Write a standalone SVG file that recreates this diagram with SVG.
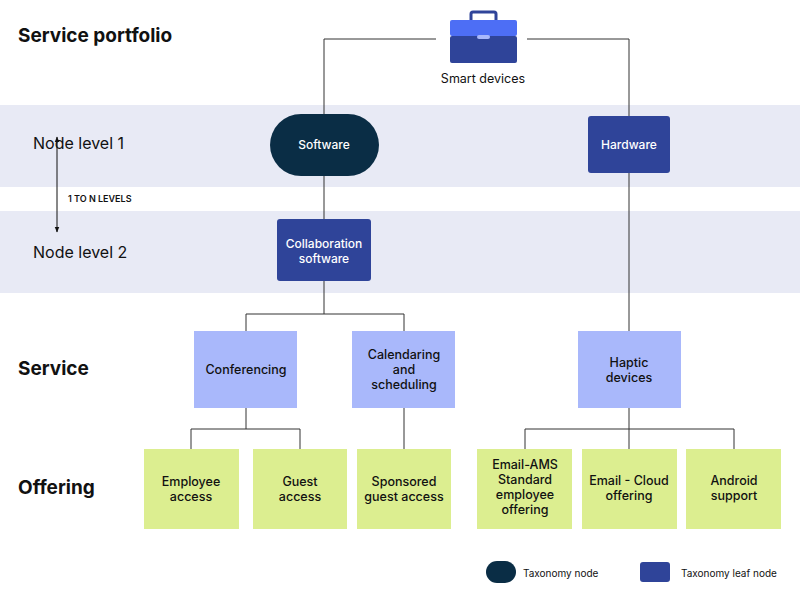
<svg xmlns="http://www.w3.org/2000/svg" width="800" height="600" viewBox="0 0 800 600">
<style>
text{font-family:Inter,"Noto Sans",sans-serif;fill:#111;}
.h{font-size:19px;font-weight:700}
.lvl{font-size:16px}
.w{fill:#fff;font-size:12px;font-weight:500}
.t{font-size:12.5px;font-weight:500}
.c{stroke:#333;stroke-width:1;fill:none}
.band{fill:#e8eaf5}
.light{fill:#a9b8fb}
.green{fill:#dcee90}
.leaf{fill:#2f4499}
</style>
<defs><marker id="ar" viewBox="0 0 10 10" refX="9" refY="5" markerWidth="6" markerHeight="6" orient="auto-start-reverse"><path d="M0,1 L10,5 L0,9 z" fill="#111"/></marker></defs>
<rect class="band" x="0" y="105" width="800" height="82"/>
<rect class="band" x="0" y="211" width="800" height="82"/>
<text class="h" x="18" y="42">Service portfolio</text>
<text class="lvl" x="33" y="149">Node level 1</text>
<text class="lvl" x="33" y="258">Node level 2</text>
<text x="68" y="202" style="font-size:9px;font-weight:600">1 TO N LEVELS</text>
<line x1="57" y1="137" x2="57" y2="232" stroke="#111" marker-start="url(#ar)" marker-end="url(#ar)"/>
<text class="h" x="18" y="375">Service</text>
<text class="h" x="18" y="494">Offering</text>
<g id="connectors">
<path class="c" d="M436,39 H324 V114 M527,39 H629 V116 M324,176 V219 M324,281 V314 M246,331 V314 H404 V331 M629,173 V331 M246,408 V429 M191,449 V429 H300 V449 M404,408 V449 M629,408 V429 M525,449 V429 H734 V449 M629,429 V449"/>
</g>
<g id="smart-devices">
<rect x="471" y="12" width="25" height="10" rx="2" fill="none" stroke="#2f4499" stroke-width="3"/>
<rect x="450" y="20" width="67" height="16" rx="2" fill="#4d6ef5"/>
<rect x="450" y="36" width="67" height="27" rx="2" fill="#2f4499"/>
<rect x="477" y="35" width="13" height="4" rx="2" fill="#a9b8fb"/>
<text x="483" y="83" text-anchor="middle" style="font-size:12.5px">Smart devices</text>
</g>
<g id="software"><rect x="270" y="114" width="109" height="62" rx="31" fill="#0a2d45"/><text class="w" x="324" y="149" text-anchor="middle">Software</text></g>
<g id="hardware"><rect class="leaf" x="588" y="116" width="82" height="57" rx="3"/><text class="w" x="629" y="149" text-anchor="middle">Hardware</text></g>
<g id="collab"><rect class="leaf" x="277" y="219" width="94" height="62" rx="3"/><text class="w" x="324" y="248" text-anchor="middle">Collaboration</text><text class="w" x="324" y="263" text-anchor="middle">software</text></g>
<g id="conferencing"><rect class="light" x="194" y="331" width="103" height="77"/><text class="t" x="246" y="374" text-anchor="middle">Conferencing</text></g>
<g id="calendaring"><rect class="light" x="352" y="331" width="103" height="77"/><text class="t" x="404" y="359" text-anchor="middle">Calendaring</text><text class="t" x="404" y="374" text-anchor="middle">and</text><text class="t" x="404" y="389" text-anchor="middle">scheduling</text></g>
<g id="haptic"><rect class="light" x="578" y="331" width="103" height="77"/><text class="t" x="629" y="367" text-anchor="middle">Haptic</text><text class="t" x="629" y="382" text-anchor="middle">devices</text></g>
<g id="employee"><rect class="green" x="144" y="449" width="95" height="80"/><text class="t" x="191" y="486" text-anchor="middle">Employee</text><text class="t" x="191" y="501" text-anchor="middle">access</text></g>
<g id="guest"><rect class="green" x="253" y="449" width="94" height="80"/><text class="t" x="300" y="486" text-anchor="middle">Guest</text><text class="t" x="300" y="501" text-anchor="middle">access</text></g>
<g id="sponsored"><rect class="green" x="357" y="449" width="94" height="80"/><text class="t" x="404" y="486" text-anchor="middle">Sponsored</text><text class="t" x="404" y="501" text-anchor="middle">guest access</text></g>
<g id="email-ams"><rect class="green" x="477" y="449" width="95" height="80"/><text class="t" x="525" y="469" text-anchor="middle">Email-AMS</text><text class="t" x="525" y="484" text-anchor="middle">Standard</text><text class="t" x="525" y="499" text-anchor="middle">employee</text><text class="t" x="525" y="514" text-anchor="middle">offering</text></g>
<g id="email-cloud"><rect class="green" x="582" y="449" width="95" height="80"/><text class="t" x="629" y="485" text-anchor="middle">Email - Cloud</text><text class="t" x="629" y="500" text-anchor="middle">offering</text></g>
<g id="android"><rect class="green" x="686" y="449" width="95" height="80"/><text class="t" x="734" y="485" text-anchor="middle">Android</text><text class="t" x="734" y="500" text-anchor="middle">support</text></g>
<g id="legend">
<rect x="486" y="561" width="30" height="22" rx="11" fill="#0a2d45"/>
<text x="523" y="577" style="font-size:10px">Taxonomy node</text>
<rect class="leaf" x="640" y="562" width="30" height="20" rx="3"/>
<text x="681" y="577" style="font-size:10px">Taxonomy leaf node</text>
</g>
</svg>
